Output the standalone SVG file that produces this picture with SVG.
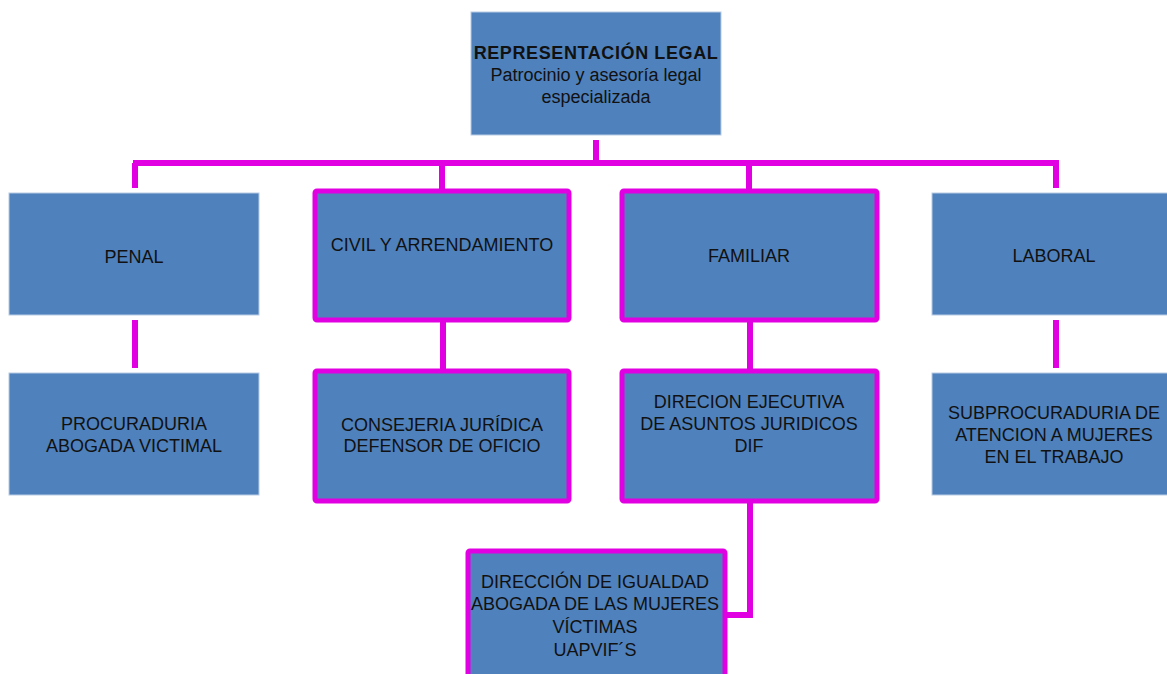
<svg xmlns="http://www.w3.org/2000/svg" width="1167" height="674" viewBox="0 0 1167 674">
<style>
.box{fill:#4F81BD;stroke:#B8CCE4;stroke-width:1}
.hbox{fill:#4F81BD;stroke:#E100E1;stroke-width:5}
.con{stroke:#E100E1;stroke-width:6;fill:none}
text{font-family:"Liberation Sans",Arial,sans-serif;font-size:18px;fill:#111;text-anchor:middle}
.b{font-weight:bold;letter-spacing:0.6px}
</style>
<rect width="1167" height="674" fill="#fff"/>
<g id="connectors">
<path class="con" d="M596 140V163M133 163H1059M135 163V188M442 163V189M749 163V189M1056 163V188"/>
<path class="con" d="M135 320V368M443 322V369M750 322V369M1056 320V368"/>
<path class="con" d="M750 503V615H725"/>
</g>
<g id="n-top"><rect class="box" x="471" y="12" width="250" height="123"/>
<text class="b" x="596" y="59">REPRESENTACIÓN LEGAL</text>
<text x="596" y="81">Patrocinio y asesoría legal</text>
<text x="596" y="103">especializada</text></g>
<g id="n-penal"><rect class="box" x="9" y="193" width="250" height="122"/>
<text x="134" y="263">PENAL</text></g>
<g id="n-civil"><rect class="hbox" x="315" y="191" width="254" height="129" rx="2"/>
<text x="442" y="251">CIVIL Y ARRENDAMIENTO</text></g>
<g id="n-familiar"><rect class="hbox" x="622" y="191" width="255" height="129" rx="2"/>
<text x="749" y="262">FAMILIAR</text></g>
<g id="n-laboral"><rect class="box" x="932" y="193" width="250" height="122"/>
<text x="1054" y="262">LABORAL</text></g>
<g id="n-procuraduria"><rect class="box" x="9" y="373" width="250" height="122"/>
<text x="134" y="430">PROCURADURIA</text>
<text x="134" y="452">ABOGADA VICTIMAL</text></g>
<g id="n-consejeria"><rect class="hbox" x="315" y="371" width="254" height="130" rx="2"/>
<text x="442" y="431">CONSEJERIA JURÍDICA</text>
<text x="442" y="452">DEFENSOR DE OFICIO</text></g>
<g id="n-direcion"><rect class="hbox" x="622" y="371" width="255" height="130" rx="2"/>
<text x="749" y="408">DIRECION EJECUTIVA</text>
<text x="749" y="430">DE ASUNTOS JURIDICOS</text>
<text x="749" y="452">DIF</text></g>
<g id="n-subprocuraduria"><rect class="box" x="932" y="373" width="250" height="122"/>
<text x="1054" y="419">SUBPROCURADURIA DE</text>
<text x="1054" y="441">ATENCION A MUJERES</text>
<text x="1054" y="463">EN EL  TRABAJO</text></g>
<g id="n-igualdad"><rect class="hbox" x="468" y="551" width="257" height="135" rx="2"/>
<text x="595" y="588">DIRECCIÓN DE IGUALDAD</text>
<text x="595" y="610">ABOGADA DE LAS MUJERES</text>
<text x="595" y="633">VÍCTIMAS</text>
<text x="595" y="656">UAPVIF´S</text></g>
</svg>
